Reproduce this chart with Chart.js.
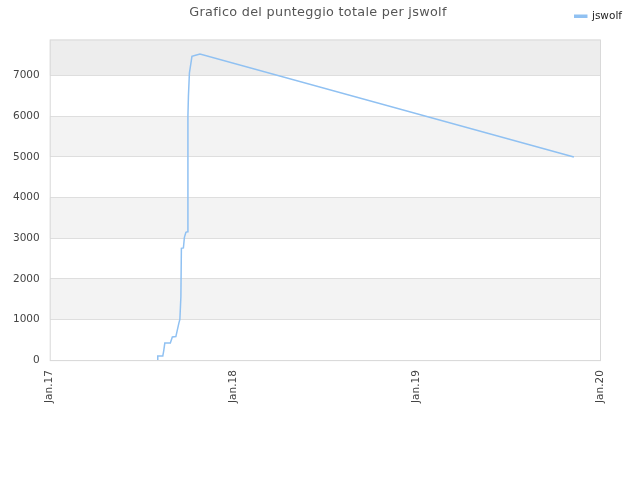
<!DOCTYPE html>
<html>
<head>
<meta charset="utf-8">
<script src="https://cdn.jsdelivr.net/npm/chart.js@4.4.1/dist/chart.umd.min.js"></script>
<style>
  html, body { margin: 0; padding: 0; background: #fff; }
  #wrap { position: relative; width: 640px; height: 480px; }
  #title {
    position: absolute; top: 4px; left: 0; width: 636px;
    text-align: center; font: 12.8px "DejaVu Sans", sans-serif;
    color: #555; letter-spacing: 0.3px;
  }
</style>
</head>
<body>
<div id="wrap">
  <canvas id="chart" width="640" height="480"></canvas>
  <div id="title">Grafico del punteggio totale per jswolf</div>
</div>
<script>
// dati
const seriesName = "jswolf";
const dates = [
  "2017-08-03", "2017-08-04", "2017-08-14", "2017-08-16", "2017-08-18",
  "2017-08-29", "2017-09-02", "2017-09-09", "2017-09-15", "2017-09-17",
  "2017-09-19", "2017-09-20", "2017-09-24", "2017-09-26", "2017-09-29",
  "2017-10-02", "2017-10-03", "2017-10-04", "2017-10-06", "2017-10-09",
  "2017-10-11", "2017-10-20", "2017-10-27", "2019-11-10"
];
const scores = [
  0, 100, 100, 240, 420,
  420, 570, 580, 910, 1000,
  1560, 2750, 2760, 3020, 3145,
  3160, 6000, 6490, 7070, 7310,
  7475, 7510, 7530, 5000
];
const yearTicks = ["2017-01-01", "2018-01-01", "2019-01-01", "2020-01-01"];
const yTicks = [0, 1000, 2000, 3000, 4000, 5000, 6000, 7000];
const yMax = 7890;

const toMs = s => Date.parse(s + "T00:00:00Z");
const points = dates.map((d, i) => ({ x: toMs(d), y: scores[i] }));
const xTicks = yearTicks.map(toMs);

const lineColor = "#90c1f2";
const tickFont = { family: "DejaVu Sans", size: 10.5 };

// bande alternate grigie + bordo area
const bands = {
  id: "bands",
  beforeDraw(chart) {
    const { ctx, chartArea: a, scales: { y } } = chart;
    ctx.save();
    for (let v = 1000; v < yMax; v += 2000) {
      const top = y.getPixelForValue(Math.min(v + 1000, yMax));
      const bot = y.getPixelForValue(v);
      ctx.fillStyle = v + 1000 >= yMax ? "#ededed" : "#f3f3f3";
      ctx.fillRect(a.left, top, a.right - a.left, bot - top);
    }
    ctx.restore();
  },
  beforeDatasetsDraw(chart) {
    const { ctx, chartArea: a } = chart;
    ctx.save();
    ctx.strokeStyle = "#d9d9d9";
    ctx.lineWidth = 1;
    ctx.strokeRect(a.left + 0.5, a.top + 0.5, a.right - a.left, a.bottom - a.top);
    ctx.restore();
  }
};

// assi vuoti solo per lo spazio (sopra e a destra)
const spacer = size => ({
  display: true,
  grid: { display: false, drawTicks: false },
  border: { display: false },
  ticks: { display: false },
  afterFit: s => { if (s.isHorizontal()) s.height = size; else s.width = size; }
});

new Chart(document.getElementById("chart"), {
  type: "line",
  data: {
    datasets: [{
      label: seriesName,
      data: points,
      borderColor: lineColor,
      backgroundColor: lineColor,
      borderWidth: 1.5,
      pointRadius: 0,
      tension: 0,
      fill: false
    }]
  },
  options: {
    responsive: false,
    animation: false,
    layout: { padding: { top: 5, left: 3, right: 12, bottom: 67 } },
    scales: {
      x: {
        type: "linear",
        min: xTicks[0],
        max: xTicks[xTicks.length - 1],
        afterBuildTicks: s => { s.ticks = xTicks.map(v => ({ value: v })); },
        grid: { display: false, drawTicks: false },
        border: { display: false },
        ticks: {
          autoSkip: false,
          minRotation: 90,
          maxRotation: 90,
          padding: 10,
          color: "#444",
          font: tickFont,
          callback: v => "Jan." + String(new Date(v).getUTCFullYear()).slice(2)
        }
      },
      y: {
        min: 0,
        max: yMax,
        afterBuildTicks: s => { s.ticks = yTicks.map(v => ({ value: v })); },
        grid: { color: "#dedede", drawTicks: false },
        border: { display: false },
        ticks: {
          autoSkip: false,
          padding: 10,
          color: "#444",
          font: tickFont,
          callback: v => String(v)
        }
      },
      xTop: Object.assign({ type: "linear", position: "top" }, spacer(8)),
      yRight: Object.assign({ type: "linear", position: "right" }, spacer(28))
    },
    plugins: {
      title: { display: false },
      tooltip: { enabled: false },
      legend: {
        position: "top",
        align: "end",
        labels: {
          boxWidth: 12,
          boxHeight: 2,
          padding: 6,
          color: "#222",
          font: tickFont
        }
      }
    }
  },
  plugins: [bands]
});
</script>
</body>
</html>
